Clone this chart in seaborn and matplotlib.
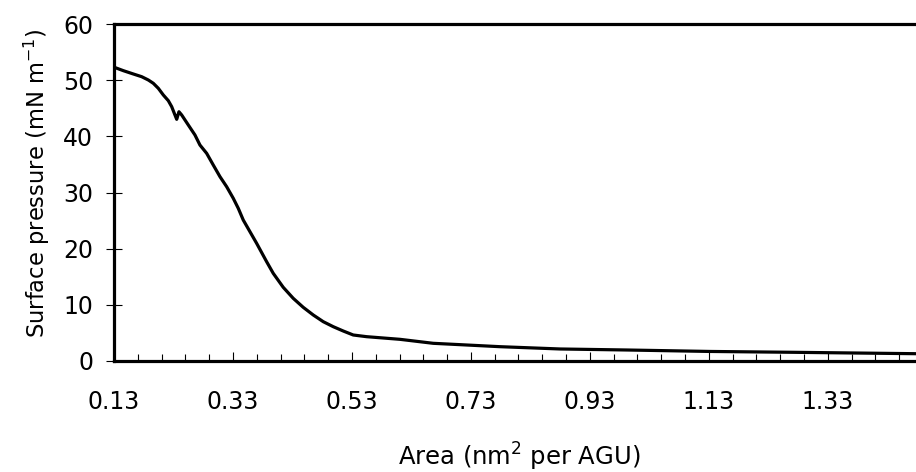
import numpy as np
import pandas as pd
import seaborn as sns
import matplotlib.pyplot as plt
from matplotlib.ticker import FixedLocator, MultipleLocator

# Surface pressure isotherm
area = [0.1305, 0.1457, 0.1625, 0.1765, 0.1877, 0.1961, 0.2045, 0.2129,
        0.2213, 0.2270, 0.2325, 0.2354, 0.2392, 0.2438, 0.2549, 0.2661,
        0.2745, 0.2858, 0.2969, 0.3082, 0.3194, 0.3305, 0.3389, 0.3473,
        0.3698, 0.3866, 0.3977, 0.4145, 0.4313, 0.4481, 0.4650, 0.4818,
        0.4986, 0.5154, 0.5322, 0.5547, 0.6107, 0.6666, 0.7228, 0.7787,
        0.8800, 0.9920, 1.1320, 1.2710, 1.4780]
pressure = [52.29, 51.69, 51.10, 50.62, 50.03, 49.44, 48.55, 47.36,
            46.35, 45.28, 43.80, 43.03, 44.38, 43.80, 42.02, 40.24,
            38.45, 36.97, 34.89, 32.81, 31.03, 28.97, 27.19, 25.10,
            20.95, 17.68, 15.61, 13.12, 11.16, 9.56, 8.19, 7.00,
            6.11, 5.34, 4.63, 4.33, 3.86, 3.15, 2.85, 2.55,
            2.14, 1.96, 1.70, 1.55, 1.30]

x_ticks = [0.13, 0.33, 0.53, 0.73, 0.93, 1.13, 1.33]
x_ticklabels = ["0.13", "0.33", "0.53", "0.73", "0.93", "1.13", "1.33"]
y_ticks = [0, 10, 20, 30, 40, 50, 60]

df = pd.DataFrame({"area": area, "pressure": pressure})

sns.set_style("ticks")
plt.rcParams["font.family"] = ["DejaVu Sans"]
plt.rcParams["mathtext.fontset"] = "dejavusans"
plt.rcParams["text.color"] = "black"
plt.rcParams["axes.labelcolor"] = "black"
plt.rcParams["xtick.color"] = "black"
plt.rcParams["ytick.color"] = "black"

fig = plt.figure(figsize=(9.16, 4.72), dpi=100)
ax = fig.add_axes([114 / 916, 111 / 472, 803 / 916, 337 / 472])

sns.lineplot(data=df, x="area", y="pressure", ax=ax, color="black",
             linewidth=2.3, sort=False)

ax.set_xlim(0.13, 1.48)
ax.set_ylim(0, 60)

ax.xaxis.set_major_locator(FixedLocator(x_ticks))
ax.set_xticklabels(x_ticklabels)
ax.xaxis.set_minor_locator(MultipleLocator(0.04, offset=0.13))
ax.yaxis.set_major_locator(FixedLocator(y_ticks))

ax.tick_params(axis="x", which="major", direction="in", length=6.5,
               width=0.8, colors="black", pad=21, labelsize=17)
ax.tick_params(axis="x", which="minor", direction="in", length=5,
               width=0.8, colors="black")
ax.tick_params(axis="y", which="major", direction="inout", length=11.5,
               width=0.8, colors="black", pad=9.3, labelsize=17)

for side in ["left", "bottom", "top"]:
    ax.spines[side].set_linewidth(2.3)
    ax.spines[side].set_color("black")
    ax.spines[side].set_visible(True)
ax.spines["right"].set_visible(False)

ax.set_xlabel(r"Area (nm$^2$ per AGU)", fontsize=17.5, va="top")
ax.xaxis.set_label_coords(0.505, -0.236)
ax.set_ylabel(r"Surface pressure (mN m$^{-1}$)", fontsize=16.3)
ax.yaxis.set_label_coords(-0.077, 0.528)

fig.savefig("out.png", dpi=100)
